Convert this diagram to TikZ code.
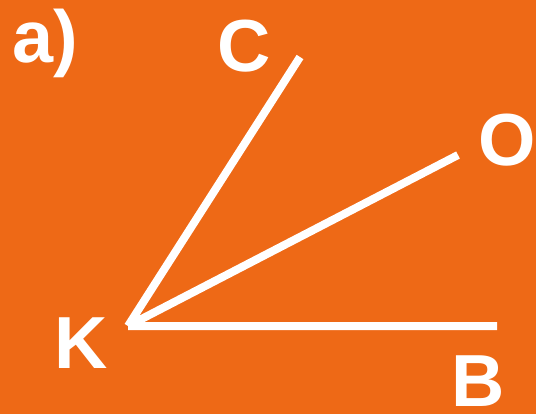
\documentclass[tikz,border=0pt]{standalone}
\usepackage{fontspec}
\setmainfont{Liberation Sans}
\usetikzlibrary{positioning}
\definecolor{bgorange}{RGB}{238,105,22}

\begin{document}
\begin{tikzpicture}[x=0.02cm, y=-0.02cm,
    ray/.style={white, line width=0.16cm},
    lbl/.style={white, font=\fontsize{42}{42}\selectfont\bfseries, inner sep=0pt, anchor=base}]
  % background
  \fill[bgorange] (0,0) rectangle (536,414);
  \useasboundingbox (0,0) rectangle (536,414);
  % vertex and ray ends
  \coordinate (k) at (128,326);
  \coordinate (c) at (300,57);
  \coordinate (o) at (458,155);
  \coordinate (b) at (497,326);
  % rays
  \draw[ray] (k) -- (c) (k) -- (o) (k) -- (b);
  % labels
  \node[lbl] (lblA) at (45,62) {a)};
  \node[lbl] (lblC) at (244,71) {C};
  \node[lbl] (lblO) at (507,165) {O};
  \node[lbl] (lblK) at (81,368) {K};
  \node[lbl] (lblB) at (478,406) {B};
\end{tikzpicture}
\end{document}
